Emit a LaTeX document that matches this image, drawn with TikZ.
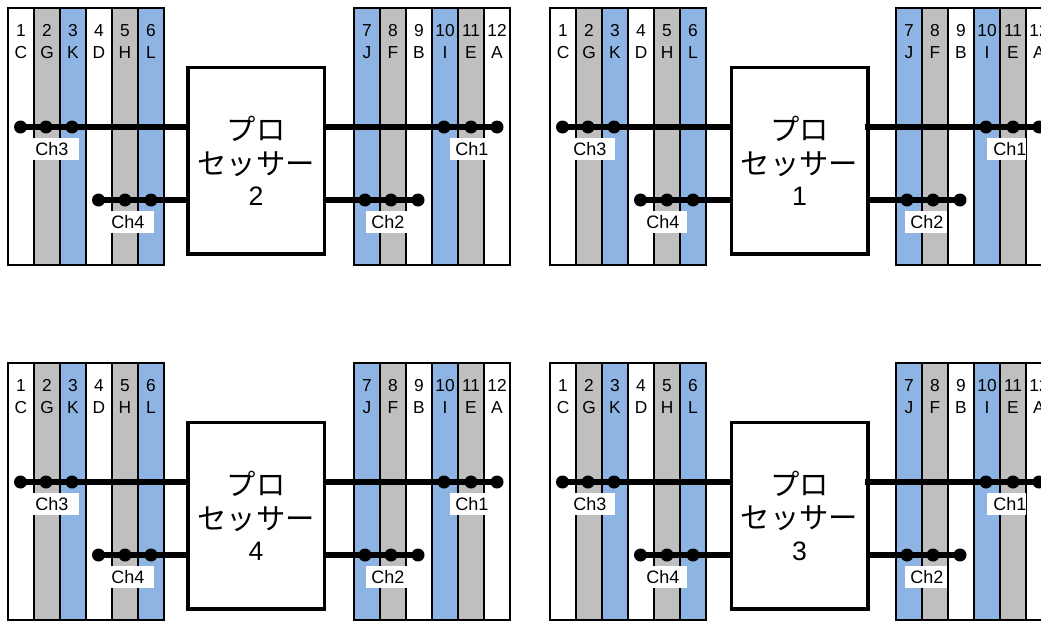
\documentclass[tikz,border=0pt]{standalone}
\usepackage{fontspec}
\usepackage{xcolor}
\setmainfont{Liberation Sans}
\newfontfamily\cjkfont{Noto Sans CJK JP}
\definecolor{slotblue}{RGB}{141,180,226}
\definecolor{slotgray}{RGB}{191,191,191}
\usetikzlibrary{calc}

\tikzset{
  slot/.style={draw=black,line width=1.75pt,minimum width=19.5pt,minimum height=192.75pt,inner sep=0pt,outer sep=0pt,anchor=north west},
  slotlabel/.style={font=\fontsize{13}{16}\selectfont,align=center,inner sep=0pt,anchor=north},
  pin/.style={circle,fill=black,inner sep=0pt,minimum size=9.75pt},
  chlabel/.style={fill=white,font=\fontsize{13.5}{14}\selectfont,inner xsep=0pt,inner ysep=0pt,minimum height=16.5pt,anchor=west,align=left},
  cpubox/.style={draw=black,line width=2.6pt,fill=white,minimum width=102.2pt,minimum height=140pt,inner sep=0pt,outer sep=0pt,anchor=north west,align=center,font=\cjkfont\fontsize{22}{25}\selectfont},
  bus/.style={line width=4.8pt}
}

\begin{document}
\begin{tikzpicture}[x=0.75pt,y=-0.75pt]

\useasboundingbox (0,0) rectangle (1041,621);
\clip (0,0) rectangle (1041,621);

% One panel per processor
\foreach \px/\py/\bx/\cpu in {0/0/0/2,542/0/1.5/1,0/355/0/4,542/355/1.5/3}{
\begin{scope}[shift={(\px,\py)}]

% Draw the slots
\foreach \n/\x/\col/\ltr in {1/8/white/C,2/34/slotgray/G,3/60/slotblue/K,4/86/white/D,5/112/slotgray/H,6/138/slotblue/L,
    7/354/slotblue/J,8/380/slotgray/F,9/406/white/B,10/432/slotblue/I,11/458/slotgray/E,12/484/white/A}{
  \node[slot,fill=\col] (s\cpu-\n) at (\x,8) {};
  \node[slotlabel] (t\cpu-\n) at ($(\x,24.5)+(13,0)$) {\n\\\ltr};
}

% Draw the processor
\node[cpubox] (cpu\cpu) at (188+\bx,67.5) {プロ\\セッサー\\[-1.5pt]{\rmfamily\fontsize{20}{25}\selectfont\cpu}};

% Draw the pins
\node[pin] (a\cpu) at (20.5,127) {};
\node[pin] (a\cpu-2) at (46,127) {};
\node[pin] (a\cpu-3) at (72,127) {};
\node[pin] (b\cpu) at (98.5,200) {};
\node[pin] (b\cpu-2) at (125,200) {};
\node[pin] (b\cpu-3) at (151,200) {};
\node[pin] (c\cpu) at (497,127) {};
\node[pin] (c\cpu-2) at (471,127) {};
\node[pin] (c\cpu-3) at (444,127) {};
\node[pin] (d\cpu) at (418,200) {};
\node[pin] (d\cpu-2) at (391,200) {};
\node[pin] (d\cpu-3) at (365,200) {};

% Draw the buses
\draw[bus] (a\cpu.center) -- (a\cpu.center -| cpu\cpu.west);
\draw[bus] (b\cpu.center) -- (b\cpu.center -| cpu\cpu.west);
\draw[bus] (d\cpu.center) -- (d\cpu.center -| cpu\cpu.east);

% Draw the channel labels
\ifodd\cpu
  \draw[bus] (c\cpu.center) -- ($(c\cpu.center -| cpu\cpu.east)+(-3,0)$);
  \node[chlabel,text width=31.5pt] (ch3\cpu) at (31,149) {Ch3};
  \node[chlabel,text width=30.75pt] (ch4\cpu) at (104,222) {Ch4};
  \node[chlabel,text width=29.25pt] (ch1\cpu) at (445,149) {\hspace*{4.5pt}Ch1};
  \node[chlabel,text width=31.5pt] (ch2\cpu) at (363,222) {\hspace*{3.75pt}Ch2};
\else
  \draw[bus] (c\cpu.center) -- (c\cpu.center -| cpu\cpu.east);
  \node[chlabel,text width=35.25pt] (ch3\cpu) at (32,149) {\hspace*{2.25pt}Ch3};
  \node[chlabel,text width=33pt] (ch4\cpu) at (110,222) {\hspace*{0.75pt}Ch4};
  \node[chlabel,text width=26.25pt] (ch1\cpu) at (450,149) {\hspace*{3.75pt}Ch1};
  \node[chlabel,text width=30.75pt] (ch2\cpu) at (366,222) {\hspace*{3.75pt}Ch2};
\fi

\end{scope}
}

\end{tikzpicture}
\end{document}
